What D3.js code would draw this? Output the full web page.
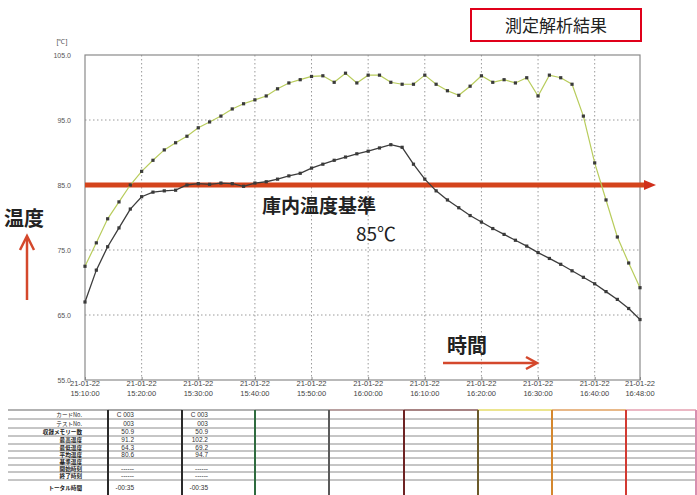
<!DOCTYPE html>
<html><head><meta charset="utf-8">
<script src="https://cdn.jsdelivr.net/npm/d3@7"></script>
<style>body{margin:0;background:#fff}svg{display:block}</style>
</head><body>
<svg id="c" width="697" height="495"></svg>
<script>
// Sample times (2-minute logging interval)
const sampleTimes = [
  "15:10","15:12","15:14","15:16","15:18","15:20","15:22","15:24","15:26","15:28",
  "15:30","15:32","15:34","15:36","15:38","15:40","15:42","15:44","15:46","15:48",
  "15:50","15:52","15:54","15:56","15:58","16:00","16:02","16:04","16:06","16:08",
  "16:10","16:12","16:14","16:16","16:18","16:20","16:22","16:24","16:26","16:28",
  "16:30","16:32","16:34","16:36","16:38","16:40","16:42","16:44","16:46","16:48"
];
// Probe 1 (dark line) temperatures, ℃
const probeDark = [
  67.0,71.9,75.5,78.4,81.3,83.2,83.9,84.1,84.2,85.0,
  85.2,85.1,85.3,85.2,84.8,85.3,85.5,85.9,86.4,86.8,
  87.6,88.2,88.8,89.3,89.8,90.2,90.7,91.2,90.8,88.2,
  85.9,84.1,82.7,81.5,80.3,79.3,78.3,77.4,76.5,75.6,
  74.6,73.7,72.8,71.8,70.8,69.8,68.6,67.4,66.0,64.3
];
// Probe 2 (yellow-green line) temperatures, ℃
const probeGreen = [
  72.5,76.1,79.8,82.4,85.0,87.1,88.8,90.4,91.5,92.5,
  93.8,94.7,95.6,96.7,97.5,98.1,98.7,99.8,100.7,101.2,
  101.7,101.8,100.8,102.2,100.7,101.9,101.9,100.8,100.5,100.5,
  101.9,100.5,99.5,98.8,100.2,101.8,100.8,101.2,100.7,101.5,
  98.7,101.9,101.5,100.5,95.6,88.4,82.7,77.0,73.0,69.2
];
const yTicks = [55, 65, 75, 85, 95, 105];
const xTicks = ["15:10","15:20","15:30","15:40","15:50","16:00","16:10","16:20","16:30","16:40","16:48"];
const dateLabel = "21-01-22";
const referenceTemp = 85;

// Summary table
const tableLabels = ["カードNo.","テストNo.","収録メモリー数","最高温度","最低温度","平均温度","基準温度","開始時刻","終了時刻","トータル時間"];
const tableColA = ["C 003","003","50.9","91.2","64.3","80.6","","------","------","-00:35"];
const tableColB = ["C 003","003","50.9","102.2","69.2","94.7","","------","------","-00:35"];

const svg = d3.select("#c");
const parse = d3.timeParse("%H:%M");
const L = 85, R = 640, T = 55, B = 380;

const x = d3.scaleTime().domain([parse(sampleTimes[0]), parse(sampleTimes[sampleTimes.length-1])]).range([L, R]);
const y = d3.scaleLinear().domain([55, 105]).range([B, T]);

const jp = "'Noto Sans CJK JP', 'Noto Sans', sans-serif";
const num = "'Liberation Sans', Arial, sans-serif";

// grid
const grid = svg.append("g");
grid.selectAll("line.v").data(xTicks.slice(1, -1)).join("line")
  .attr("x1", d => x(parse(d))).attr("x2", d => x(parse(d)))
  .attr("y1", T).attr("y2", B)
  .attr("stroke", "#9a9a9a").attr("stroke-width", 1).attr("stroke-dasharray", "1.5,2.5");
grid.selectAll("line.h").data(yTicks.slice(1, -1)).join("line")
  .attr("x1", L).attr("x2", R)
  .attr("y1", d => y(d)).attr("y2", d => y(d))
  .attr("stroke", "#9a9a9a").attr("stroke-width", 1).attr("stroke-dasharray", "1.5,2.5");

// frame
svg.append("rect").attr("x", L).attr("y", T).attr("width", R - L).attr("height", B - T)
  .attr("fill", "none").attr("stroke", "#8a8a8a").attr("stroke-width", 1.2);

// y axis
const yAxis = svg.append("g").attr("transform", `translate(${L - 14},0)`)
  .call(d3.axisLeft(y).tickValues(yTicks).tickFormat(d3.format(".1f")).tickSize(0).tickPadding(0));
yAxis.select(".domain").remove();
yAxis.selectAll("text").attr("font-family", num).attr("font-size", 7).attr("fill", "#555");
svg.append("text").attr("x", 62).attr("y", 44).attr("text-anchor", "middle")
  .attr("font-family", num).attr("font-size", 7).attr("fill", "#555").text("[℃]");

// x axis
const xAxis = svg.append("g").attr("transform", `translate(0,${B})`)
  .call(d3.axisBottom(x).tickValues(xTicks.map(parse)).tickSize(-3).tickPadding(3)
    .tickFormat(() => ""));
xAxis.select(".domain").remove();
xAxis.selectAll("line").attr("stroke", "#888");
const xl = svg.append("g");
xTicks.forEach(t => {
  const g = xl.append("text").attr("x", x(parse(t))).attr("text-anchor", "middle")
    .attr("font-family", num).attr("font-size", 7.5).attr("fill", "#444");
  g.append("tspan").attr("x", x(parse(t))).attr("y", 386).text(dateLabel);
  g.append("tspan").attr("x", x(parse(t))).attr("y", 396).text(t + ":00");
});

// reference line at 85℃
const ry = y(referenceTemp);
svg.append("line").attr("x1", L).attr("x2", 646).attr("y1", ry).attr("y2", ry)
  .attr("stroke", "#d4441c").attr("stroke-width", 5);
svg.append("path").attr("d", `M644,${ry-5}L656,${ry}L644,${ry+5}Z`).attr("fill", "#d0301c");

// series
const line = d3.line().x((d, i) => x(parse(sampleTimes[i]))).y(d => y(d));
function drawSeries(vals, color, w) {
  svg.append("path").datum(vals).attr("d", line).attr("fill", "none")
    .attr("stroke", color).attr("stroke-width", w);
  svg.append("g").selectAll("rect").data(vals).join("rect")
    .attr("x", (d, i) => x(parse(sampleTimes[i])) - 1.6).attr("y", d => y(d) - 1.6)
    .attr("width", 3.2).attr("height", 3.2).attr("fill", "#3a3a3a");
}
drawSeries(probeGreen, "#b8cc5c", 1.2);
drawSeries(probeDark, "#3c3c3c", 1.3);

// annotations
svg.append("text").attr("x", 262).attr("y", 213).attr("font-family", jp).attr("font-weight", 700)
  .attr("font-size", 19).attr("fill", "#222").text("庫内温度基準");
svg.append("text").attr("x", 356).attr("y", 241).attr("font-family", jp)
  .attr("font-size", 19).attr("fill", "#222").text("85℃");
svg.append("text").attr("x", 4).attr("y", 226).attr("font-family", jp).attr("font-weight", 700)
  .attr("font-size", 20).attr("fill", "#222").text("温度");
svg.append("text").attr("x", 447).attr("y", 353).attr("font-family", jp).attr("font-weight", 700)
  .attr("font-size", 20).attr("fill", "#222").text("時間");

const arrowCol = "#d4482c";
svg.append("line").attr("x1", 27).attr("y1", 300).attr("x2", 27).attr("y2", 237)
  .attr("stroke", arrowCol).attr("stroke-width", 2.5);
svg.append("path").attr("d", "M20,250L27,236L34,250").attr("fill", "none")
  .attr("stroke", arrowCol).attr("stroke-width", 2.5);
svg.append("line").attr("x1", 443).attr("y1", 363).attr("x2", 536).attr("y2", 363)
  .attr("stroke", arrowCol).attr("stroke-width", 2.5);
svg.append("path").attr("d", "M526,357L537,363L526,369").attr("fill", "none")
  .attr("stroke", arrowCol).attr("stroke-width", 2.5);

// title box
svg.append("rect").attr("x", 471).attr("y", 9).attr("width", 170).attr("height", 32)
  .attr("fill", "#fff").attr("stroke", "#e0001a").attr("stroke-width", 2);
svg.append("text").attr("x", 556).attr("y", 32).attr("text-anchor", "middle")
  .attr("font-family", jp).attr("font-size", 17).attr("fill", "#222").text("測定解析結果");

// summary table
const tb = svg.append("g");
const rowEdges = [410, 419, 428, 436, 444, 451, 458, 465, 472, 480, 495];
const colEdges = [108, 182, 255, 329, 404, 478, 552, 626, 696];
const colColors = ["#2a2a2a", "#2b2b2b", "#2f6b3f", "#5a5a5a", "#6e2323", "#6b5a2a", "#d4872e", "#d23a32", "#d98fb0"];
const topColors = ["#999", "#888", "#999", "#8a8a8a", "#a08080", "#8a5a5a", "#e6dc6a", "#e0a060", "#e4a0b0"];
rowEdges.slice(1, -1).forEach(r => {
  tb.append("line").attr("x1", 8).attr("x2", 697).attr("y1", r).attr("y2", r)
    .attr("stroke", "#8c8c8c").attr("stroke-width", 1);
});
const segStarts = [8].concat(colEdges.slice(0, -1));
segStarts.forEach((s, i) => {
  tb.append("line").attr("x1", s).attr("x2", colEdges[i]).attr("y1", rowEdges[0]).attr("y2", rowEdges[0])
    .attr("stroke", topColors[i]).attr("stroke-width", 1.5);
});
colEdges.forEach((c, i) => {
  tb.append("line").attr("x1", c).attr("x2", c).attr("y1", rowEdges[0]).attr("y2", 495)
    .attr("stroke", colColors[i]).attr("stroke-width", 2);
});
tableLabels.forEach((lab, i) => {
  const cy = (rowEdges[i] + rowEdges[i + 1]) / 2 + 2.2;
  tb.append("text").attr("x", 82).attr("y", cy).attr("text-anchor", "end")
    .attr("font-family", jp).attr("font-size", 5.6).attr("font-weight", i >= 2 ? 700 : 400)
    .attr("fill", "#222").text(lab);
  tb.append("text").attr("x", 134).attr("y", cy).attr("text-anchor", "end")
    .attr("font-family", num).attr("font-size", 6.5).attr("fill", "#333").text(tableColA[i]);
  tb.append("text").attr("x", 208).attr("y", cy).attr("text-anchor", "end")
    .attr("font-family", num).attr("font-size", 6.5).attr("fill", "#333").text(tableColB[i]);
});
</script>
</body></html>
